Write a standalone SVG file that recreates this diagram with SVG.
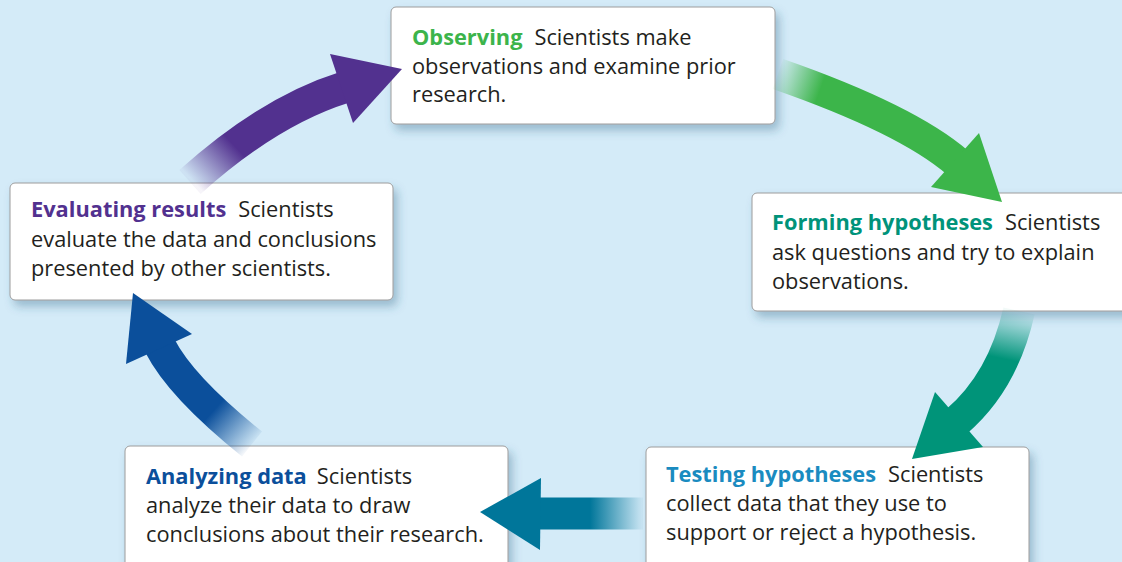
<svg xmlns="http://www.w3.org/2000/svg" width="1122" height="562" viewBox="0 0 1122 562">
  <style>
    .box { fill: #ffffff; stroke: #9c9c9c; stroke-width: 1; filter: url(#shadow); }
    .txt { font-family: "Open Sans", "Noto Sans", "Liberation Sans", sans-serif; font-size: 21.8px; fill: #231f20; }
    .b { font-weight: 700; }
    .body { fill: none; stroke-width: 32; stroke-linecap: butt; }
  </style>
  <defs>
    <filter id="shadow" x="-10%" y="-20%" width="125%" height="150%">
      <feDropShadow dx="4" dy="6" stdDeviation="5" flood-color="#2f5f80" flood-opacity="0.35"/>
    </filter>
    <linearGradient id="gGreen" gradientUnits="userSpaceOnUse" x1="780" y1="70" x2="822" y2="85">
      <stop offset="0" stop-color="#3cb54a" stop-opacity="0.05"/>
      <stop offset="1" stop-color="#3cb54a" stop-opacity="1"/>
    </linearGradient>
    <linearGradient id="gTeal" gradientUnits="userSpaceOnUse" x1="1019" y1="313" x2="1009" y2="360">
      <stop offset="0" stop-color="#009479" stop-opacity="0.05"/>
      <stop offset="1" stop-color="#009479" stop-opacity="1"/>
    </linearGradient>
    <linearGradient id="gCyan" gradientUnits="userSpaceOnUse" x1="642" y1="513" x2="590" y2="513">
      <stop offset="0" stop-color="#00769a" stop-opacity="0.05"/>
      <stop offset="1" stop-color="#00769a" stop-opacity="1"/>
    </linearGradient>
    <linearGradient id="gBlue" gradientUnits="userSpaceOnUse" x1="252" y1="444" x2="214" y2="410">
      <stop offset="0" stop-color="#0b4f9b" stop-opacity="0.05"/>
      <stop offset="1" stop-color="#0b4f9b" stop-opacity="1"/>
    </linearGradient>
    <linearGradient id="gPurple" gradientUnits="userSpaceOnUse" x1="192" y1="180" x2="232" y2="143">
      <stop offset="0" stop-color="#52318f" stop-opacity="0.05"/>
      <stop offset="1" stop-color="#52318f" stop-opacity="1"/>
    </linearGradient>
  </defs>

  <rect x="0" y="0" width="1122" height="562" fill="#d4ebf8"/>

  <g id="node-observing">
    <rect class="box" x="391" y="7" width="384" height="117" rx="5"/>
    <text class="txt" x="412" y="45"><tspan class="b" fill="#3cb44b">Observing</tspan><tspan dx="12">Scientists make</tspan></text>
    <text class="txt" x="412" y="74">observations and examine prior</text>
    <text class="txt" x="412" y="102">research.</text>
  </g>

  <g id="node-forming">
    <rect class="box" x="752" y="193" width="380" height="118" rx="5"/>
    <text class="txt" x="772" y="230"><tspan class="b" fill="#00937a">Forming hypotheses</tspan><tspan dx="12">Scientists</tspan></text>
    <text class="txt" x="772" y="259.5">ask questions and try to explain</text>
    <text class="txt" x="772" y="289">observations.</text>
  </g>

  <g id="node-testing">
    <rect class="box" x="646" y="447" width="383" height="130" rx="5"/>
    <text class="txt" x="666" y="482"><tspan class="b" fill="#1a8bc0">Testing hypotheses</tspan><tspan dx="12">Scientists</tspan></text>
    <text class="txt" x="666" y="511">collect data that they use to</text>
    <text class="txt" x="666" y="540">support or reject a hypothesis.</text>
  </g>

  <g id="node-analyzing">
    <rect class="box" x="125" y="446" width="383" height="131" rx="5"/>
    <text class="txt" x="146" y="483.5"><tspan class="b" fill="#0b4f9b">Analyzing data</tspan><tspan dx="10">Scientists</tspan></text>
    <text class="txt" x="146" y="512.5">analyze their data to draw</text>
    <text class="txt" x="146" y="541.5">conclusions about their research.</text>
  </g>

  <g id="node-evaluating">
    <rect class="box" x="10" y="183" width="383" height="117" rx="5"/>
    <text class="txt" x="31" y="217"><tspan class="b" fill="#52318f">Evaluating results</tspan><tspan dx="12">Scientists</tspan></text>
    <text class="txt" x="31" y="246.5">evaluate the data and conclusions</text>
    <text class="txt" x="31" y="275.5">presented by other scientists.</text>
  </g>

  <g id="connectors">
    <g id="arrow-observing-forming">
      <path class="body" stroke="url(#gGreen)" d="M 778 74 Q 907 119 958 163"/>
      <polygon fill="#3cb54a" points="931,187 979,133 1002,202"/>
    </g>
    <g id="arrow-forming-testing">
      <path class="body" stroke="url(#gTeal)" d="M 1019 311 Q 1003 382 956 422"/>
      <polygon fill="#009479" points="935,392 983,447 912,459"/>
    </g>
    <g id="arrow-testing-analyzing">
      <path class="body" stroke="url(#gCyan)" d="M 643 513.5 H 536"/>
      <polygon fill="#00769a" points="541,478 480,512 540,550"/>
    </g>
    <g id="arrow-analyzing-evaluating">
      <path class="body" stroke="url(#gBlue)" d="M 252 444 Q 181 387 160 346"/>
      <polygon fill="#0b4f9b" points="126,364 192,334 133,293"/>
    </g>
    <g id="arrow-evaluating-observing">
      <path class="body" stroke="url(#gPurple)" d="M 190 182 Q 269 111 344 87.5"/>
      <polygon fill="#52318f" points="330,54 353,123 402,69"/>
    </g>
  </g>
</svg>
